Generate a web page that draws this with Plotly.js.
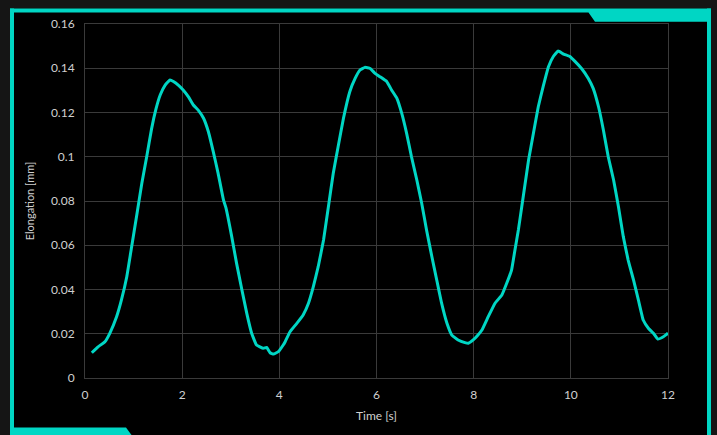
<!DOCTYPE html>
<html>
<head>
<meta charset="utf-8">
<script src="https://cdn.plot.ly/plotly-3.0.1.min.js"></script>
<style>
  html, body { margin: 0; padding: 0; background: #151515; }
  #chart { width: 717px; height: 435px; }
</style>
</head>
<body>
<div id="chart"></div>
<script>
// Time [s]
const timeS = [
  0.14, 0.27, 0.41, 0.51, 0.65, 0.75, 0.86, 0.96, 1.06, 1.17, 1.27, 1.37, 1.46, 1.55, 1.65, 1.75, 1.82, 1.92,
  2.02, 2.13, 2.23, 2.33, 2.44, 2.54, 2.64, 2.74, 2.85, 2.90, 3.02, 3.12, 3.23, 3.33, 3.43, 3.53, 3.67, 3.74,
  3.81, 3.88, 3.98, 4.08, 4.12, 4.22, 4.36, 4.49, 4.60, 4.70, 4.80, 4.91, 5.01, 5.11, 5.21, 5.32, 5.45, 5.56,
  5.66, 5.76, 5.87, 5.97, 6.07, 6.21, 6.31, 6.42, 6.52, 6.62, 6.72, 6.83, 6.93, 7.03, 7.14, 7.24, 7.34, 7.45,
  7.55, 7.68, 7.82, 7.89, 7.99, 8.08, 8.17, 8.30, 8.44, 8.58, 8.68, 8.78, 8.85, 8.92, 8.99, 9.06, 9.13, 9.23,
  9.33, 9.43, 9.54, 9.64, 9.74, 9.85, 9.98, 10.09, 10.22, 10.36, 10.46, 10.57, 10.67, 10.77, 10.88, 10.98,
  11.08, 11.18, 11.29, 11.39, 11.49, 11.60, 11.70, 11.79, 11.87, 11.97, 12.0
];
// Elongation [mm]
const elongationMm = [
  0.0114, 0.0141, 0.0164, 0.0202, 0.0277, 0.0353, 0.0458, 0.0593, 0.0729, 0.0880, 0.1000, 0.1126, 0.1215, 0.1280, 0.1324, 0.1347, 0.1340, 0.1324,
  0.1302, 0.1271, 0.1234, 0.1211, 0.1174, 0.1113, 0.1023, 0.0925, 0.0805, 0.0770, 0.0639, 0.0518, 0.0398, 0.0292, 0.0202, 0.0149, 0.0134, 0.0138,
  0.0114, 0.0108, 0.0119, 0.0149, 0.0164, 0.0209, 0.0247, 0.0285, 0.0338, 0.0413, 0.0503, 0.0624, 0.0774, 0.0925, 0.1045, 0.1174, 0.1294, 0.1354,
  0.1392, 0.1404, 0.1399, 0.1377, 0.1362, 0.1340, 0.1302, 0.1264, 0.1196, 0.1106, 0.1000, 0.0895, 0.0790, 0.0669, 0.0548, 0.0443, 0.0338, 0.0247,
  0.0194, 0.0172, 0.0160, 0.0157, 0.0172, 0.0192, 0.0217, 0.0277, 0.0338, 0.0375, 0.0428, 0.0488, 0.0579, 0.0669, 0.0774, 0.0880, 0.0985, 0.1106,
  0.1226, 0.1317, 0.1407, 0.1453, 0.1478, 0.1464, 0.1453, 0.1430, 0.1399, 0.1354, 0.1309, 0.1226, 0.1121, 0.1000, 0.0895, 0.0774,
  0.0639, 0.0533, 0.0443, 0.0353, 0.0262, 0.0224, 0.0202, 0.0176, 0.0182, 0.0197, 0.0203
];
const xTickVals = [0, 2, 4, 6, 8, 10, 12];
const yTickVals = [0, 0.02, 0.04, 0.06, 0.08, 0.1, 0.12, 0.14, 0.16];

const ACCENT = '#00d6c4';
const W = 717, H = 435;
const M = { l: 85, r: 49, t: 24, b: 57 };
const PW = W - M.l - M.r, PH = H - M.t - M.b;
const px = x => (x - M.l) / PW;
const py = y => (H - M.b - y) / PH;
function poly(pts) {
  return 'M' + pts.map(p => px(p[0]).toFixed(5) + ',' + py(p[1]).toFixed(5)).join(' L') + ' Z';
}
const frameShapes = [
  { type: 'path', xref: 'paper', yref: 'paper', layer: 'below', line: { width: 0 }, fillcolor: '#000000',
    path: poly([[10, 8.5], [711, 8.5], [711, 435], [10, 435]]) },
  { type: 'path', xref: 'paper', yref: 'paper', layer: 'above', line: { width: 0 }, fillcolor: ACCENT,
    path: poly([[10, 8.5], [711, 8.5], [711, 21.7], [595, 21.7], [588.5, 12.5], [10, 12.5]]) },
  { type: 'path', xref: 'paper', yref: 'paper', layer: 'above', line: { width: 0 }, fillcolor: ACCENT,
    path: poly([[10, 8.5], [14, 8.5], [14, 435], [10, 435]]) },
  { type: 'path', xref: 'paper', yref: 'paper', layer: 'above', line: { width: 0 }, fillcolor: ACCENT,
    path: poly([[707, 8.5], [711, 8.5], [711, 435], [707, 435]]) },
  { type: 'path', xref: 'paper', yref: 'paper', layer: 'above', line: { width: 0 }, fillcolor: ACCENT,
    path: poly([[10, 427.5], [126, 427.5], [131.5, 435], [10, 435]]) }
];

const trace = {
  x: timeS, y: elongationMm, type: 'scatter', mode: 'lines',
  line: { color: ACCENT, width: 3, shape: 'spline', smoothing: 0.3 },
  hoverinfo: 'x+y'
};

const axisCommon = {
  showgrid: true, gridcolor: '#3a3a3a', gridwidth: 1,
  zeroline: false, showline: true, linecolor: '#3a3a3a', linewidth: 1, mirror: true,
  ticks: '', tickfont: { family: 'Lato, "Open Sans", sans-serif', size: 12, color: '#d0d0d0' },
  automargin: false
};

const layout = {
  width: W, height: H,
  margin: M,
  paper_bgcolor: '#151515',
  plot_bgcolor: 'rgba(0,0,0,0)',
  showlegend: false,
  font: { family: 'Lato, "Open Sans", sans-serif', color: '#d0d0d0' },
  xaxis: Object.assign({}, axisCommon, {
    range: [0, 12], tickvals: xTickVals, ticklabelstandoff: 6,
    title: { text: 'Time [s]', font: { size: 12, color: '#d0d0d0' }, standoff: 10 }
  }),
  yaxis: Object.assign({}, axisCommon, {
    range: [0, 0.16], tickvals: yTickVals, ticklabelstandoff: 7,
    title: { text: 'Elongation [mm]', font: { size: 11, color: '#d0d0d0' }, standoff: 14 }
  }),
  shapes: frameShapes
};

Plotly.newPlot('chart', [trace], layout, { displayModeBar: false, staticPlot: true });
</script>
</body>
</html>
